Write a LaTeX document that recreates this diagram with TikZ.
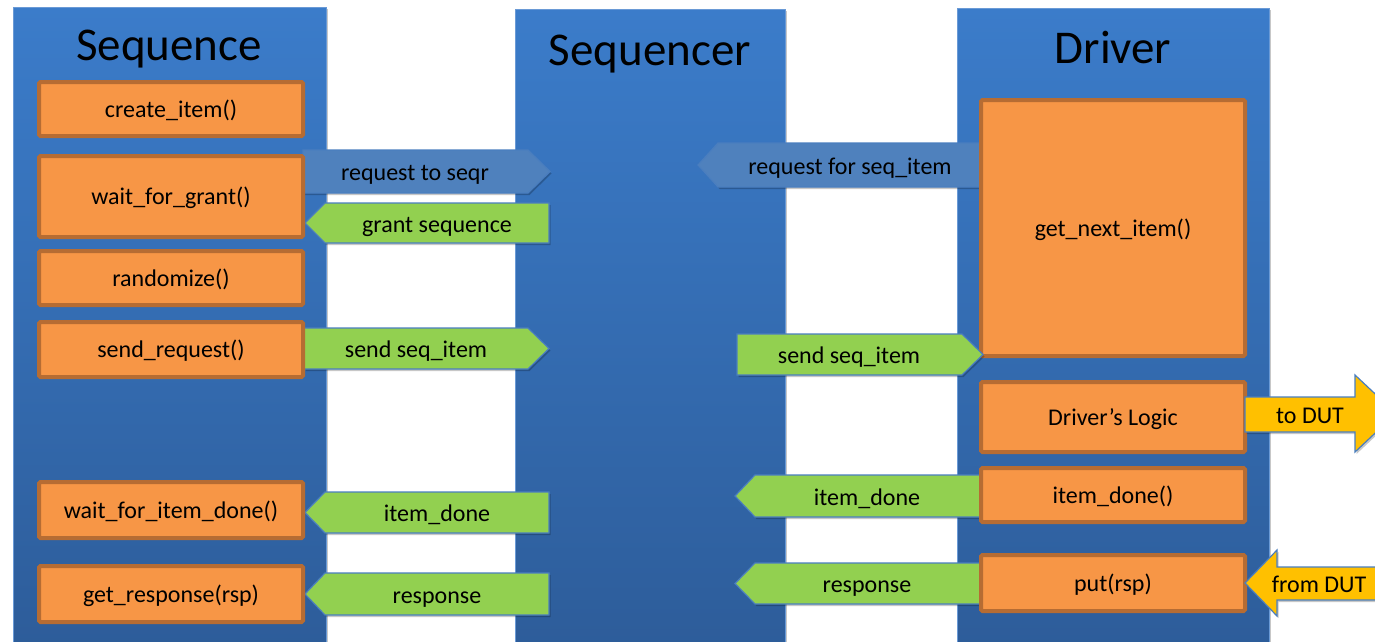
\documentclass[tikz,border=0pt]{standalone}
\usepackage{fontspec}
\setmainfont{Carlito}
\usetikzlibrary{shadows}

\definecolor{coltop}{HTML}{3B7CCA}
\definecolor{colbot}{HTML}{2D5C99}
\definecolor{coledge}{HTML}{6A9AD6}
\definecolor{fnfill}{HTML}{F79646}
\definecolor{fnedge}{HTML}{B66C33}
\definecolor{msgedge}{HTML}{4A7EBF}
\definecolor{reqfill}{HTML}{4F81BD}
\definecolor{okfill}{HTML}{92D050}
\definecolor{dutfill}{HTML}{FFC000}

\tikzset{
  softshadow/.style={drop shadow={shadow xshift=1.5pt, shadow yshift=-2pt, opacity=0.22, fill=black}},
  column/.style={draw=coledge, line width=0.8pt, top color=coltop, bottom color=colbot,
    minimum width=313pt, inner sep=0pt, outer sep=0pt, anchor=north west, softshadow},
  coltitle/.style={font=\fontsize{47}{50}\selectfont, text=black, anchor=base, inner sep=0pt},
  fn/.style={draw=fnedge, fill=fnfill, line width=4pt, rounded corners=1.5pt,
    minimum width=264pt, inner sep=0pt, text height=19pt, text depth=3pt,
    font=\fontsize{24}{26}\selectfont},
  msg/.style={draw=msgedge, line width=1.2pt, line join=miter, softshadow},
  req/.style={msg, fill=reqfill},
  ok/.style={msg, fill=okfill},
  dut/.style={msg, fill=dutfill},
  lbl/.style={font=\fontsize{24}{26}\selectfont, inner sep=0pt, text height=19pt, text depth=3pt, text=black}
}

\begin{document}
\begin{tikzpicture}[x=1pt,y=-1pt]
\useasboundingbox (0,0) rectangle (1375,641);
\clip (0,0) rectangle (1375,641);

% the three columns
\node[column, minimum height=650pt] (seq) at (13,7) {};
\node[column, minimum width=270pt, minimum height=650pt] (sqr) at (515,9) {};
\node[column, minimum width=312pt, minimum height=650pt] (drv) at (957,8) {};

\node[coltitle] (seqT) at (169,60) {Sequence};
\node[coltitle] (sqrT) at (650,65) {Sequencer};
\node[coltitle] (drvT) at (1113,63.5) {Driver};

% messages between sequence and sequencer
\draw[req] (303,150) -- (528,150) -- (550,171.5) -- (528,193) -- (303,193) -- cycle;
\node[lbl] (m1) at (415,172) {request to seqr};
\draw[ok] (549,203) -- (325,203) -- (305,223) -- (325,243) -- (549,243) -- cycle;
\node[lbl] (m2) at (437,224) {grant sequence};
\draw[ok] (304,328) -- (528,328) -- (549,348.5) -- (528,369) -- (304,369) -- cycle;
\node[lbl] (m3) at (416,349) {send seq\_item};
\draw[ok] (549,492) -- (325,492) -- (305,512.5) -- (325,533) -- (549,533) -- cycle;
\node[lbl] (m4) at (437,513) {item\_done};
\draw[ok] (549,573) -- (325,573) -- (305,594) -- (325,615) -- (549,615) -- cycle;
\node[lbl] (m5) at (437,595) {response};

% messages between sequencer and driver
\draw[req] (982,143) -- (718,143) -- (698,165) -- (718,187) -- (982,187) -- cycle;
\node[lbl] (m6) at (850,166) {request for seq\_item};
\draw[ok] (980,475) -- (755,475) -- (735,496) -- (755,517) -- (980,517) -- cycle;
\node[lbl] (m8) at (867,497) {item\_done};
\draw[ok] (980,563) -- (755,563) -- (735,583.5) -- (755,604) -- (980,604) -- cycle;
\node[lbl] (m9) at (867,584) {response};

% sequence steps
\node[fn, minimum height=54pt] (create) at (171,109) {create\_item()};
\node[fn, minimum height=81pt] (grant) at (171,196.5) {wait\_for\_grant()};
\node[fn, minimum height=54pt] (rand) at (171,278) {randomize()};
\node[fn, minimum height=55pt] (sendreq) at (171,349.5) {send\_request()};
\node[fn, minimum height=56pt] (waitdone) at (171,510) {wait\_for\_item\_done()};
\node[fn, minimum height=56pt] (getrsp) at (171,594) {get\_response(rsp)};

% driver steps
\node[fn, minimum height=256pt] (gni) at (1113,228) {get\_next\_item()};
\node[fn, minimum height=70pt] (logic) at (1113,417) {Driver’s Logic};
\node[fn, minimum height=54pt] (idone) at (1113,495) {item\_done()};
\node[fn, minimum height=56pt] (put) at (1113,583) {put(rsp)};

\draw[ok] (737,334) -- (962,334) -- (983,354.5) -- (962,375) -- (737,375) -- cycle;
\node[lbl] (m7) at (849,355) {send seq\_item};

% DUT interface
\draw[dut] (1245,397) -- (1355,397) -- (1355,375) -- (1396,413.5) -- (1355,452) -- (1355,432) -- (1245,432) -- cycle;
\node[lbl] (toDUT) at (1310,415) {to DUT};
\draw[dut] (1245,583) -- (1277,550) -- (1277,567) -- (1400,567) -- (1400,600) -- (1277,600) -- (1277,616) -- cycle;
\node[lbl] (fromDUT) at (1319,584) {from DUT};
\end{tikzpicture}
\end{document}
